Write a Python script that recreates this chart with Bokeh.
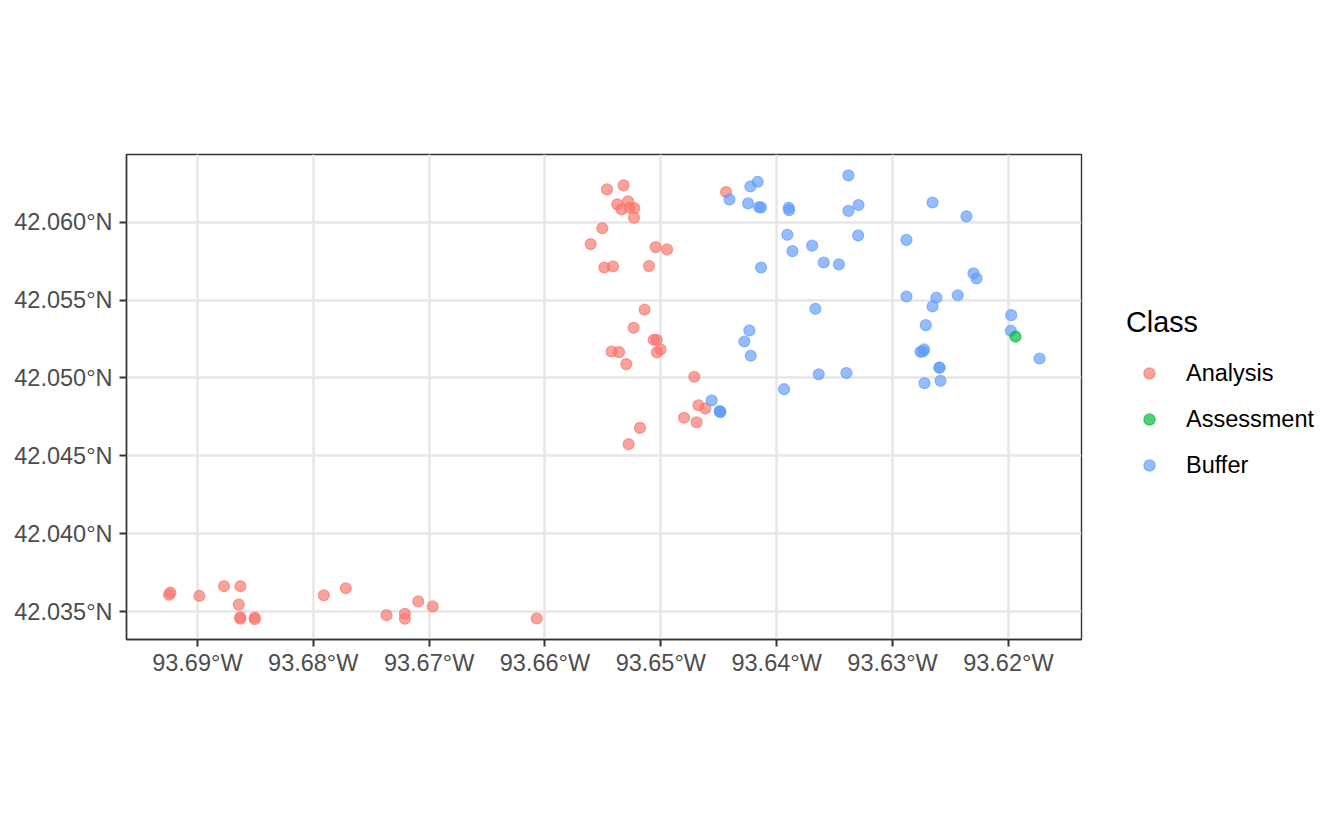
from bokeh.plotting import figure
from bokeh.models import Range1d, FixedTicker, Legend, LegendItem
from bokeh.embed import file_html
from bokeh.resources import INLINE

analysis_lon = [-93.65465,-93.65321,-93.65376,-93.65283,-93.65339,-93.65269,-93.65229,-93.65231,-93.65505,-93.65606,
                -93.65045,-93.64946,-93.65488,-93.65413,-93.65102,-93.65140,-93.65235,-93.65062,-93.65036,-93.65002,
                -93.65033,-93.65425,-93.65361,-93.65298,-93.64711,-93.64676,-93.64616,-93.64800,-93.64691,-93.65180,
                -93.65278,-93.64437,
                -93.69233,-93.69245,-93.68983,-93.68770,-93.68629,-93.68643,-93.68631,-93.68629,-93.68505,-93.68505,
                -93.67909,-93.67719,-93.67368,-93.67209,-93.67209,-93.67094,-93.66969,-93.66071]
analysis_lat = [42.06210,42.06236,42.06114,42.06133,42.06082,42.06092,42.06090,42.06028,42.05961,42.05859,
                42.05840,42.05825,42.05709,42.05716,42.05718,42.05438,42.05322,42.05245,42.05245,42.05183,
                42.05164,42.05170,42.05166,42.05089,42.05008,42.04825,42.04804,42.04745,42.04716,42.04680,
                42.04575,42.06193,
                42.03623,42.03609,42.03602,42.03664,42.03664,42.03546,42.03465,42.03455,42.03463,42.03452,
                42.03606,42.03651,42.03478,42.03487,42.03455,42.03566,42.03534,42.03457]
assessment_lon = [-93.61939]
assessment_lat = [42.05266]
buffer_lon = [-93.64164,-93.64227,-93.64408,-93.64247,-93.64152,-93.64135,-93.63896,-93.63893,-93.63908,-93.63694,
              -93.63864,-93.63594,-93.64135,-93.63666,-93.64236,-93.64279,-93.64224,-93.63637,-93.63936,-93.64561,
              -93.64492,-93.64486,-93.64489,-93.63381,-93.63294,-93.63381,-93.63463,-93.63297,-93.62880,-93.62655,
              -93.62362,-93.62301,-93.62275,-93.62880,-93.62621,-93.62655,-93.62437,-93.62713,-93.62727,-93.62739,
              -93.62759,-93.62595,-93.62595,-93.62724,-93.62586,-93.61976,-93.61979,-93.61731,-93.63398]
buffer_lat = [42.06259,42.06229,42.06146,42.06120,42.06096,42.06094,42.06092,42.06077,42.05919,42.05849,
              42.05814,42.05741,42.05709,42.05444,42.05305,42.05234,42.05143,42.05024,42.04928,42.04856,
              42.04787,42.04781,42.04785,42.06300,42.06110,42.06072,42.05729,42.05915,42.05886,42.06126,
              42.06037,42.05671,42.05639,42.05523,42.05515,42.05459,42.05531,42.05339,42.05183,42.05170,
              42.05168,42.05067,42.05066,42.04967,42.04982,42.05403,42.05303,42.05125,42.05032]

x_ticks = [-93.69,-93.68,-93.67,-93.66,-93.65,-93.64,-93.63,-93.62]
x_labels = ["93.69°W","93.68°W","93.67°W","93.66°W","93.65°W","93.64°W","93.63°W","93.62°W"]
y_ticks = [42.035,42.04,42.045,42.05,42.055,42.06]
y_labels = ["42.035°N","42.040°N","42.045°N","42.050°N","42.055°N","42.060°N"]
legend_title = "Class"
class_names = ["Analysis","Assessment","Buffer"]
class_colors = ["#F8766D","#00BA38","#619CFF"]

p = figure(width=1328, height=814, output_backend="svg", toolbar_location=None,
           x_range=Range1d(-93.69612,-93.61369), y_range=Range1d(42.03322,42.06434),
           min_border_left=126, min_border_right=247, min_border_top=154, min_border_bottom=175,
           background_fill_color="white", border_fill_color="white")
p.frame_width = 955
p.frame_height = 485

p.outline_line_color = "#333333"
p.outline_line_width = 1.4
for g in (p.xgrid, p.ygrid):
    g.grid_line_color = "#E6E6E6"
    g.grid_line_width = 2.5
    g.minor_grid_line_color = None
p.xgrid.ticker = FixedTicker(ticks=x_ticks)
p.ygrid.ticker = FixedTicker(ticks=y_ticks)

p.xaxis.ticker = FixedTicker(ticks=x_ticks)
p.yaxis.ticker = FixedTicker(ticks=y_ticks)
p.xaxis.major_label_overrides = dict(zip(x_ticks, x_labels))
p.yaxis.major_label_overrides = dict(zip(y_ticks, y_labels))
p.xaxis[0].major_label_standoff = 3
p.yaxis[0].major_label_standoff = 7
for ax in (p.xaxis[0], p.yaxis[0]):
    ax.axis_line_color = "#333333"
    ax.axis_line_width = 1.4
    ax.major_tick_line_color = "#333333"
    ax.major_tick_line_width = 2
    ax.major_tick_in = 0
    ax.major_tick_out = 7
    ax.minor_tick_line_color = None
    ax.major_label_text_color = "#4D4D4D"
    ax.major_label_text_font = "Liberation Sans"
    ax.major_label_text_font_size = "23.5px"

def draw(lon, lat, color):
    return p.scatter(lon, lat, size=11, marker="circle", fill_color=color, fill_alpha=0.68,
                     line_color=color, line_alpha=0.68, line_width=1.2)

r_a = draw(analysis_lon, analysis_lat, class_colors[0])
r_b = draw(buffer_lon, buffer_lat, class_colors[2])
r_s = draw(assessment_lon, assessment_lat, class_colors[1])

legend = Legend(items=[LegendItem(label=class_names[0], renderers=[r_a]),
                       LegendItem(label=class_names[1], renderers=[r_s]),
                       LegendItem(label=class_names[2], renderers=[r_b])],
                title=legend_title, border_line_color=None, background_fill_color="white",
                background_fill_alpha=0, margin=0, padding=0, spacing=18,
                glyph_width=46, glyph_height=28, label_height=28, label_width=120,
                label_standoff=14, title_standoff=20,
                title_text_font="Liberation Sans", title_text_font_size="28.8px",
                title_text_font_style="normal", title_text_color="black",
                label_text_font="Liberation Sans", label_text_font_size="23.5px",
                label_text_color="black", label_text_baseline="middle",
                location=(45, 160))
p.add_layout(legend, "right")

open("out.html", "w").write(file_html(p, INLINE))
